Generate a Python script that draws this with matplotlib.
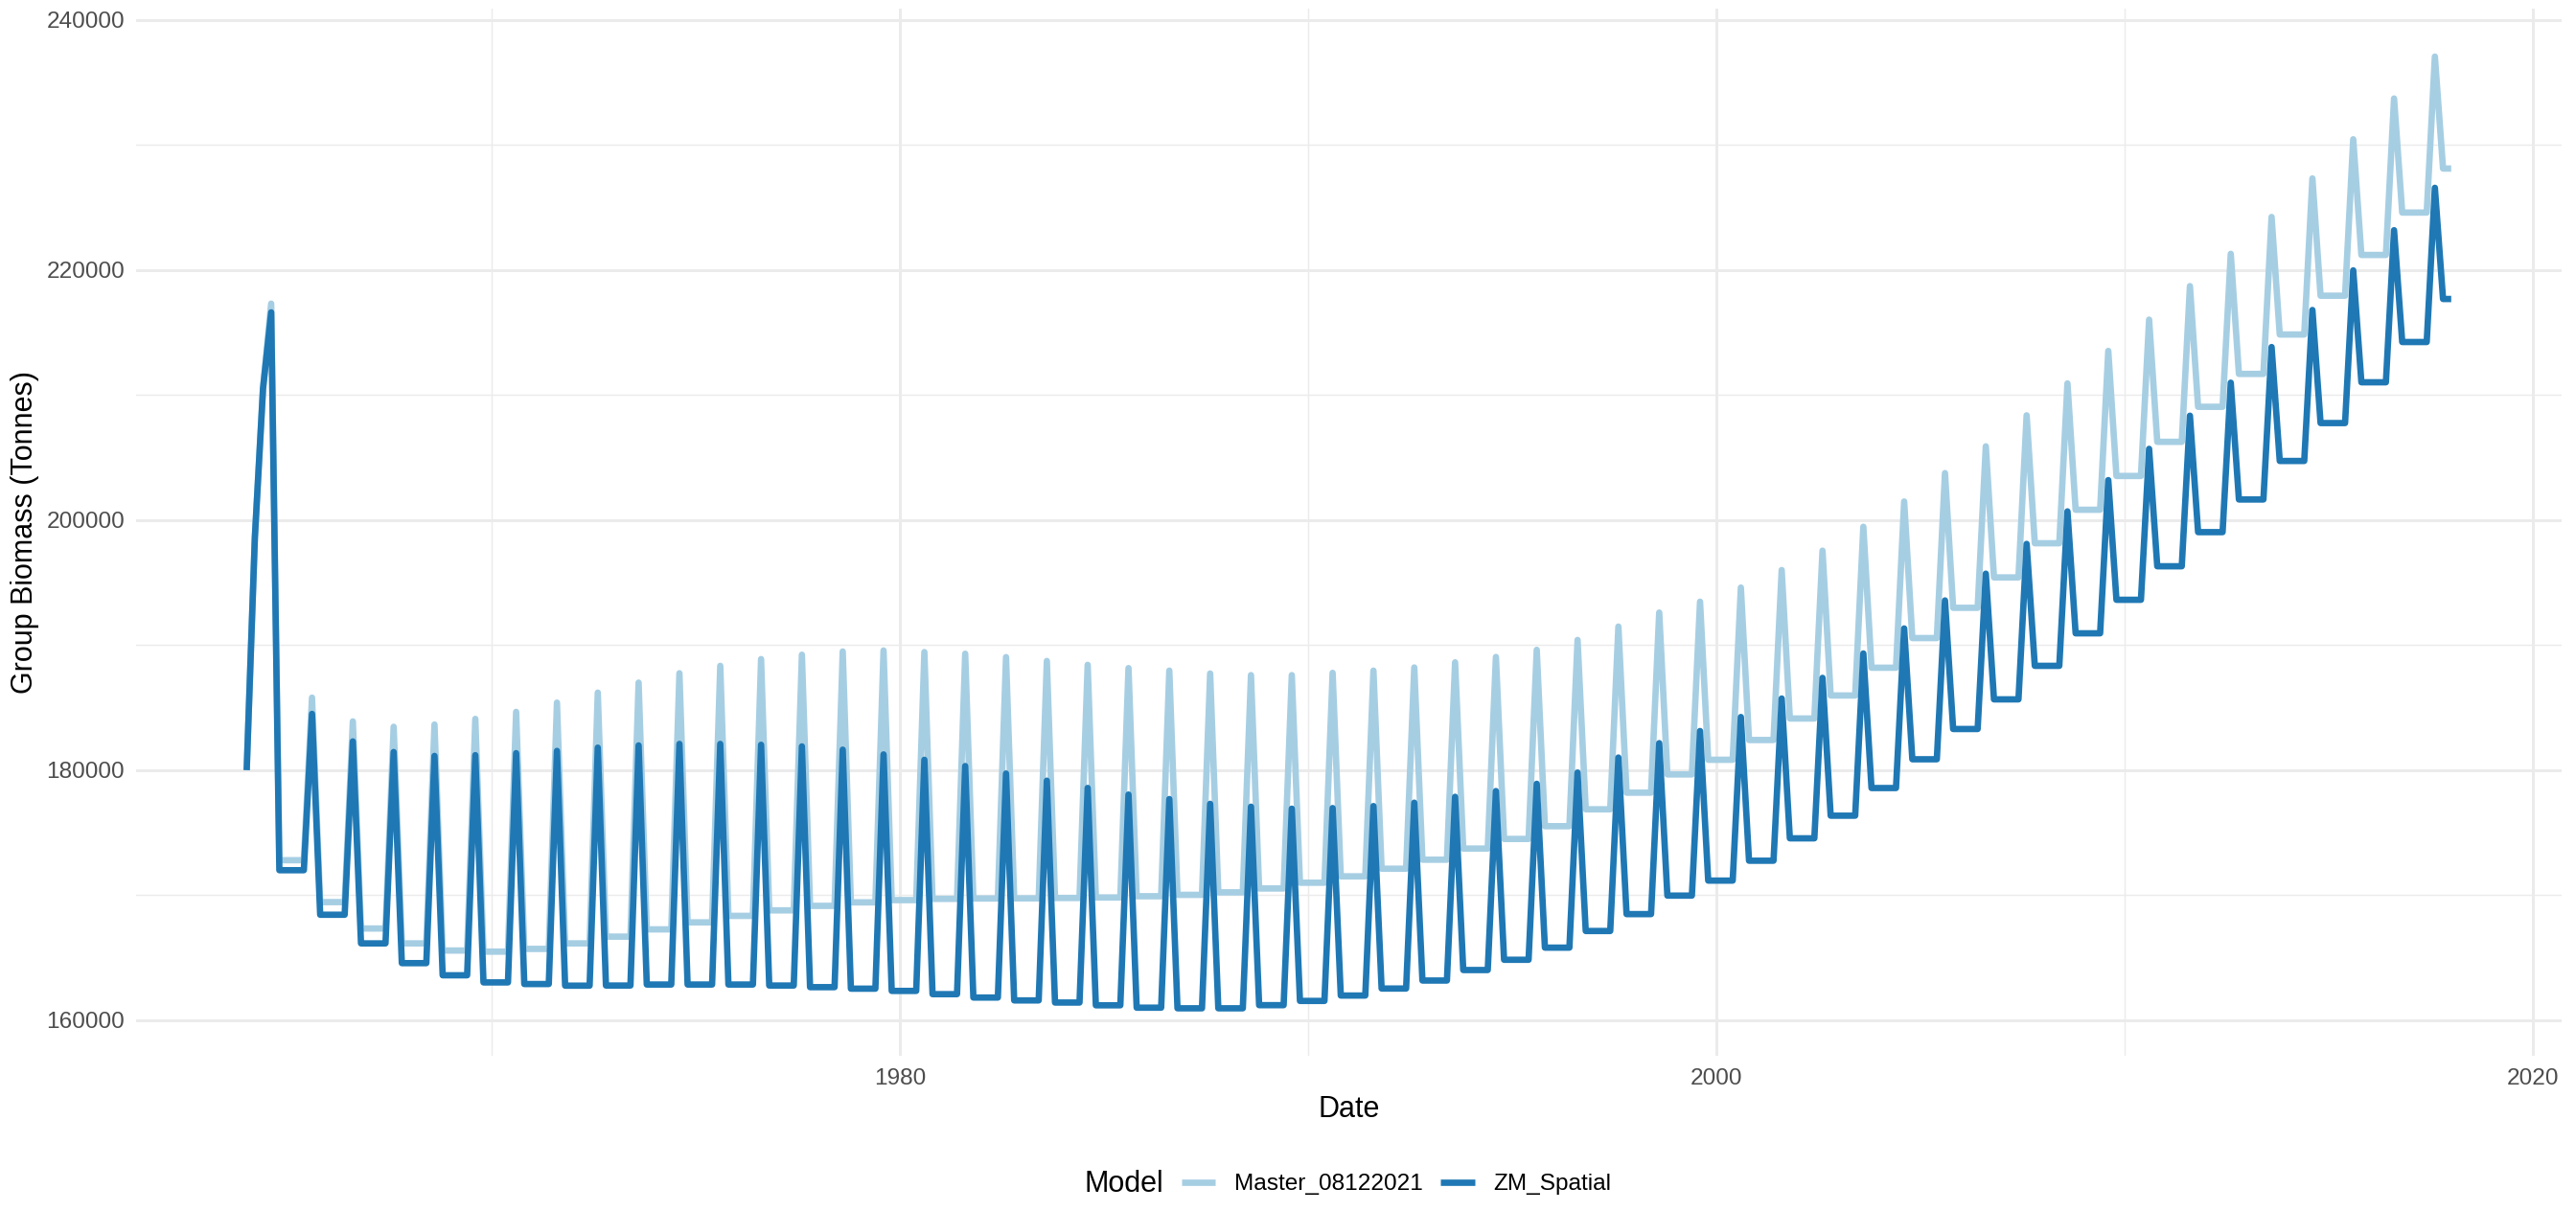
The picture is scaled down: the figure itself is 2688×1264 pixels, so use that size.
import matplotlib
matplotlib.use("Agg")
import matplotlib.pyplot as plt
import numpy as np

plt.rcParams["font.family"] = ["Liberation Sans", "DejaVu Sans"]

# yearly values (1964 .. 2017)
years = np.arange(1964, 2018)

# first three points of the series (Jan .. May 1964), same for both models
start_vals = [180000, 198600, 210500]

master_peaks = [217300, 185800, 183900, 183470, 183650, 184100, 184660, 185400, 186200, 187000,
                187750, 188340, 188880, 189230, 189490, 189570, 189440, 189310, 189040, 188730,
                188420, 188160, 187960, 187730, 187600, 187600, 187780, 187960, 188210, 188620,
                189050, 189620, 190410, 191480, 192600, 193470, 194600, 196000, 197550, 199460,
                201480, 203750, 205890, 208370, 210920, 213520, 216020, 218700, 221280, 224230,
                227310, 230440, 233700, 237050]
master_lows = [172800, 169450, 167340, 166150, 165580, 165490, 165710, 166150, 166690, 167270,
               167830, 168350, 168790, 169150, 169430, 169610, 169710, 169740, 169750, 169780,
               169820, 169920, 170030, 170230, 170540, 171000, 171510, 172120, 172840, 173730,
               174500, 175520, 176870, 178200, 179660, 180830, 182410, 184130, 185970, 188190,
               190560, 192980, 195410, 198140, 200820, 203520, 206250, 209050, 211680, 214830,
               217930, 221190, 224580, 228100]
zm_peaks = [216600, 184500, 182300, 181450, 181140, 181200, 181360, 181540, 181800, 181980,
            182100, 182100, 182030, 181900, 181640, 181260, 180830, 180330, 179730, 179160,
            178580, 178050, 177690, 177310, 177080, 176920, 176970, 177130, 177400, 177870,
            178330, 178910, 179810, 181010, 182160, 183130, 184250, 185730, 187380, 189330,
            191330, 193570, 195710, 198090, 200690, 203190, 205690, 208340, 210980, 213830,
            216790, 219960, 223170, 226560]
zm_lows = [172000, 168440, 166150, 164570, 163600, 163030, 162900, 162770, 162780, 162860,
           162860, 162860, 162780, 162650, 162530, 162350, 162090, 161820, 161590, 161420,
           161200, 161010, 160960, 160960, 161210, 161550, 161980, 162540, 163180, 164020,
           164840, 165810, 167140, 168490, 169970, 171170, 172760, 174550, 176360, 178570,
           180870, 183290, 185660, 188340, 190940, 193620, 196300, 199030, 201640, 204720,
           207750, 211010, 214230, 217670]

models = ["Master_08122021", "ZM_Spatial"]
colors = ["#A6CEE3", "#1F78B4"]


def build(peaks, lows):
    t = [years[0], years[0] + 0.2, years[0] + 0.4]
    v = list(start_vals)
    for i, y in enumerate(years):
        if i > 0:
            t.append(y + 0.4)
            v.append(lows[i - 1])
        t += [y + 0.6, y + 0.8]
        v += [peaks[i], lows[i]]
    t.append(years[-1] + 1.0)
    v.append(lows[-1])
    return np.array(t), np.array(v)


W, H = 2688, 1264
fig = plt.figure(figsize=(W / 200, H / 200), dpi=200)
ax = fig.add_axes([142.4 / W, 1 - 1102.1 / H, 2530.4 / W, 1092.7 / H])

series = [build(master_peaks, master_lows), build(zm_peaks, zm_lows)]
handles = []
for (t, v), c, name in zip(series, colors, models):
    h, = ax.plot(t, v, color=c, lw=2.4, solid_joinstyle="round", solid_capstyle="butt",
                 label=name, zorder=3)
    handles.append(h)

# ggplot-like expansion of 5%
allv = np.concatenate([s[1] for s in series])
tmin, tmax = series[0][0].min(), series[0][0].max()
xr = tmax - tmin
yr = allv.max() - allv.min()
ax.set_xlim(tmin - 0.05 * xr, tmax + 0.05 * xr)
ax.set_ylim(allv.min() - 0.05 * yr, allv.max() + 0.05 * yr)

ax.set_xticks([1980, 2000, 2020])
ax.set_xticks([1970, 1990, 2010], minor=True)
ax.set_yticks(np.arange(160000, 240001, 20000))
ax.set_yticks(np.arange(170000, 240000, 20000), minor=True)
ax.set_yticklabels([str(v) for v in np.arange(160000, 240001, 20000)])

ax.grid(which="major", color="#EBEBEB", lw=1.07)
ax.grid(which="minor", color="#EBEBEB", lw=0.53)
ax.set_axisbelow(True)
for s in ax.spines.values():
    s.set_visible(False)
ax.tick_params(which="both", length=0)
ax.tick_params(axis="x", pad=4.6, labelsize=8.8, labelcolor="#4D4D4D")
ax.tick_params(axis="y", pad=4.4, labelsize=8.8, labelcolor="#4D4D4D")

fig.text(1407.6 / W, 1 - 1158 / H, "Date", ha="center", va="center", fontsize=11)
fig.text(26 / W, 1 - 556 / H, "Group Biomass (Tonnes)", ha="center", va="center",
         rotation=90, fontsize=11)

fig.text(1131 / W, 1 - 1236 / H, "Model", ha="left", va="center", fontsize=11)
fig.legend(handles=handles, labels=models, loc="center", bbox_to_anchor=(1457 / W, 1 - 1236 / H),
           ncol=2, frameon=False, fontsize=8.8, handlelength=1.47, handletextpad=0.78,
           columnspacing=0.78, borderpad=0, borderaxespad=0)

fig.savefig("out.png", dpi=200, facecolor="white")
